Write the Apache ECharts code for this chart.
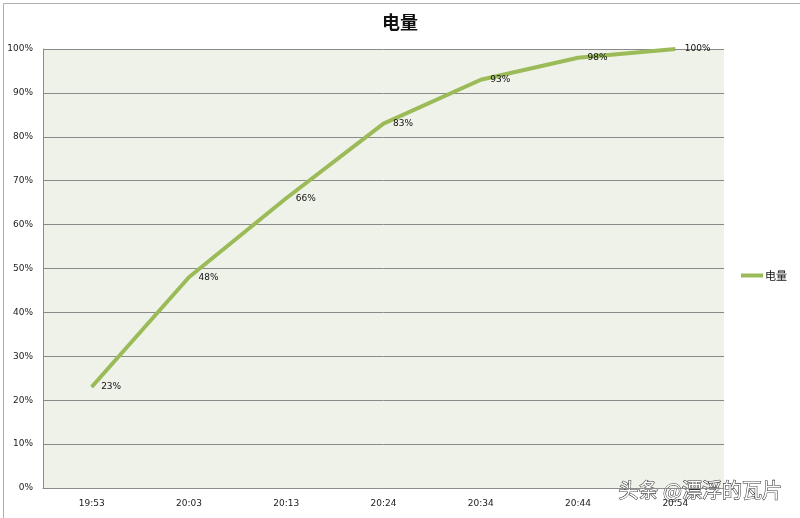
<!DOCTYPE html>
<html><head><meta charset="utf-8">
<script src="https://cdn.jsdelivr.net/npm/echarts@6/dist/echarts.min.js"></script>
<style>html,body{margin:0;padding:0;background:#fff}#c{width:800px;height:518px}</style>
</head><body><div id="c"></div>
<script>
const categories = ['19:53','20:03','20:13','20:24','20:34','20:44','20:54'];
const values = [23,48,66,83,93,98,100];
const seriesName = '电量';
const chart = echarts.init(document.getElementById('c'));
chart.setOption({
  animation:false,
  backgroundColor:'#fff',
  title:{text:'电量',left:'center',top:8,textStyle:{fontFamily:'Noto Sans CJK SC',fontSize:18,fontWeight:'bold',color:'#111'}},
  legend:{data:[{name:seriesName,icon:'rect',itemStyle:{color:'#9BBB59',opacity:1}}],orient:'vertical',left:736,top:265,itemWidth:22,itemHeight:4,itemGap:4,
    textStyle:{fontFamily:'Noto Sans CJK SC',fontSize:11,color:'#111',padding:[0,0,0,-3]}},
  grid:{left:43,right:76,top:49,bottom:30,show:true,backgroundColor:'#EFF2E9',borderWidth:0},
  xAxis:{type:'category',data:categories,boundaryGap:true,
    axisLine:{lineStyle:{color:'#8c8c8c'}},axisTick:{show:false},
    axisLabel:{fontFamily:'DejaVu Sans',fontSize:9,color:'#222',margin:11},splitLine:{show:false}},
  yAxis:{type:'value',min:0,max:100,interval:10,
    axisLine:{show:true,lineStyle:{color:'#8c8c8c'}},axisTick:{show:false},
    axisLabel:{formatter:'{value}%',fontFamily:'DejaVu Sans',fontSize:9,color:'#222',margin:10},
    splitLine:{lineStyle:{color:'#8a8a8a',width:1}}},
  series:[{name:seriesName,type:'line',data:values,symbol:'circle',symbolSize:1,showSymbol:true,
    lineStyle:{color:'#9BBB59',width:4},itemStyle:{color:'rgba(0,0,0,0)'},
    labelLayout:{hideOverlap:false},
    label:{show:true,position:'right',distance:9,offset:[0,5],formatter:'{c}%',fontFamily:'DejaVu Sans',fontSize:9,color:'#111'}}],
  graphic:[
    {type:'rect',left:1,top:1,shape:{width:797,height:515},style:{fill:'none',stroke:'#b0b0b0',lineWidth:1},silent:true},
    {type:'text',left:618,top:480,style:{text:'头条 @漂浮的瓦片',font:'20px "Noto Sans CJK SC"',fill:'#ffffff',stroke:'#333',lineWidth:1.1}}
  ]
});
</script></body></html>
